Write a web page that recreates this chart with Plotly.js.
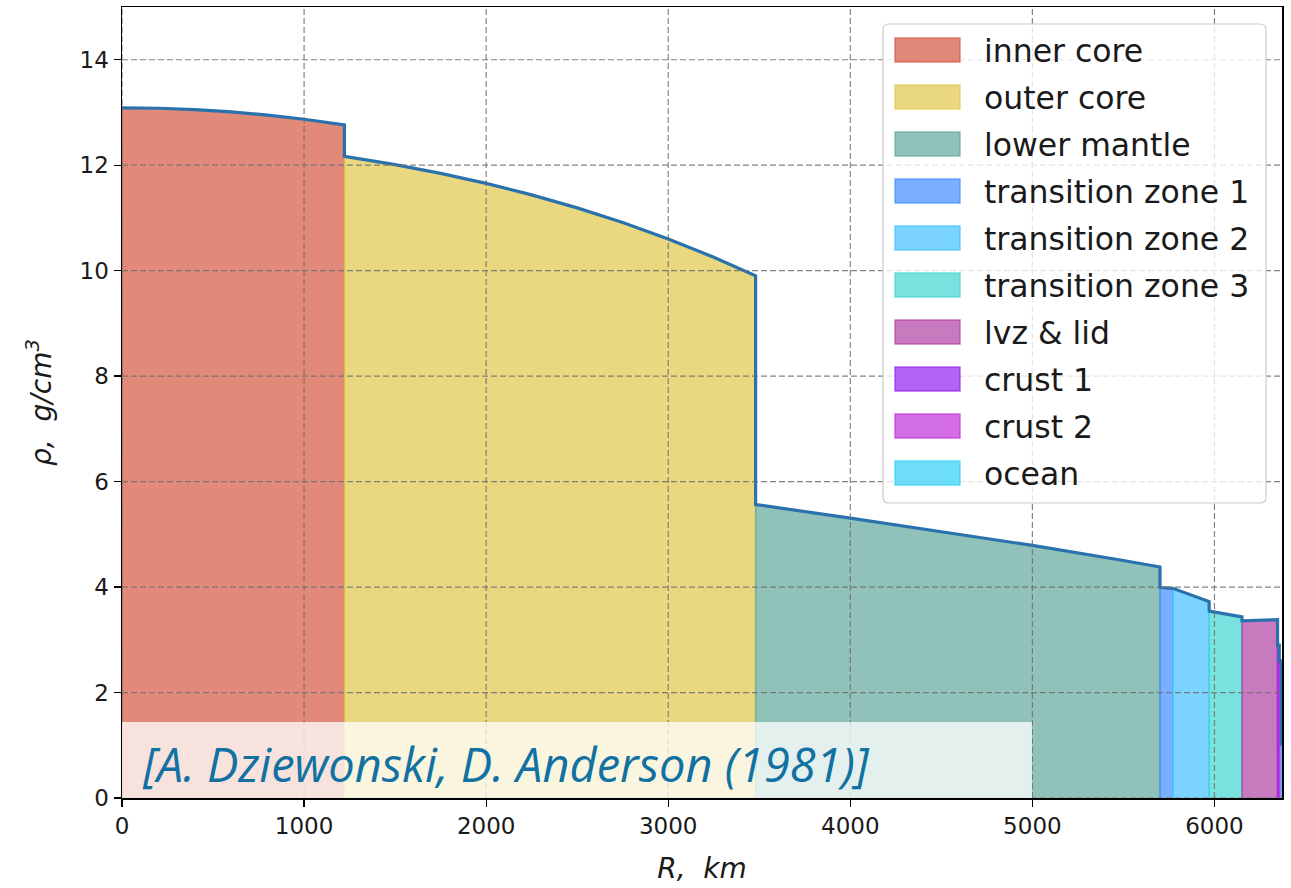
<!DOCTYPE html>
<html>
<head>
<meta charset="utf-8">
<script src="https://cdn.plot.ly/plotly-3.0.1.min.js"></script>
<style>
  html, body { margin: 0; padding: 0; background: #ffffff; }
  #chart { width: 1291px; height: 888px; }
</style>
</head>
<body>
<div id="chart"></div>
<script>
// PREM density profile, rho (g/cm^3) versus radius R (km), layer by layer.
const layerNames = ['inner core', 'outer core', 'lower mantle', 'transition zone 1',
  'transition zone 2', 'transition zone 3', 'lvz & lid', 'crust 1', 'crust 2', 'ocean'];

const innerCoreR   = [0, 200, 400, 600, 800, 1000, 1221.5];
const innerCoreRho = [13.088, 13.080, 13.054, 13.010, 12.949, 12.871, 12.764];

const outerCoreR   = [1221.5, 1500, 1750, 2000, 2250, 2500, 2750, 3000, 3250, 3480];
const outerCoreRho = [12.166, 12.010, 11.845, 11.655, 11.437, 11.191, 10.913, 10.602, 10.255, 9.904];

const lowerMantleR   = [3480, 4000, 4500, 5000, 5500, 5701];
const lowerMantleRho = [5.566, 5.307, 5.055, 4.790, 4.504, 4.381];

const transition1R   = [5701, 5771];
const transition1Rho = [3.992, 3.976];

const transition2R   = [5771, 5971];
const transition2Rho = [3.976, 3.724];

const transition3R   = [5971, 6151];
const transition3Rho = [3.543, 3.436];

const lvzLidR   = [6151, 6346.6];
const lvzLidRho = [3.360, 3.381];

const crust1R   = [6346.6, 6356];
const crust1Rho = [2.90, 2.90];

const crust2R   = [6356, 6368];
const crust2Rho = [2.60, 2.60];

const oceanR   = [6368, 6371];
const oceanRho = [1.02, 1.02];

const xTickValues = [0, 1000, 2000, 3000, 4000, 5000, 6000];
const yTickValues = [0, 2, 4, 6, 8, 10, 12, 14];

const sourceNote = '[A. Dziewonski, D. Anderson (1981)]';

// Base colours of the layers, drawn at 70 % opacity.
const layerColors = [
  [212, 89, 65], [225, 199, 74], [98, 168, 156], [65, 141, 255], [65, 194, 255],
  [65, 214, 208], [176, 65, 162], [145, 34, 241], [194, 48, 219], [48, 208, 245]
];
const alpha = 0.7;
const rgba = (c, a) => `rgba(${c[0]},${c[1]},${c[2]},${a})`;

const layerR   = [innerCoreR, outerCoreR, lowerMantleR, transition1R, transition2R,
                  transition3R, lvzLidR, crust1R, crust2R, oceanR];
const layerRho = [innerCoreRho, outerCoreRho, lowerMantleRho, transition1Rho, transition2Rho,
                  transition3Rho, lvzLidRho, crust1Rho, crust2Rho, oceanRho];

const traces = [];

// Filled area under each layer's density curve
layerNames.forEach((name, i) => {
  const r = layerR[i], rho = layerRho[i];
  traces.push({
    type: 'scatter',
    mode: 'lines',
    name: name,
    x: [r[0], ...r, r[r.length - 1]],
    y: [0, ...rho, 0],
    fill: 'toself',
    fillcolor: rgba(layerColors[i], alpha),
    line: { color: rgba(layerColors[i], alpha), width: 1.5 },
    hoverinfo: 'skip',
    showlegend: false
  });
});

// Continuous density curve across all layers
traces.push({
  type: 'scatter',
  mode: 'lines',
  name: 'density',
  x: layerR.flat(),
  y: layerRho.flat(),
  line: { color: '#2a72ad', width: 3.2 },
  showlegend: false
});

// Plot area in pixels, used to place the legend in paper units
const plotLeft = 122, plotRight = 1282, plotTop = 7, plotBottom = 798;
const pw = plotRight - plotLeft, ph = plotBottom - plotTop;
const px = x => (x - plotLeft) / pw;
const py = y => (plotBottom - y) / ph;

const shapes = [];

// Dashed grid drawn over the filled areas
xTickValues.forEach(v => shapes.push({
  type: 'line', xref: 'x', yref: 'paper', x0: v, x1: v, y0: 0, y1: 1, layer: 'above',
  line: { color: 'rgba(110,110,110,0.85)', width: 1.2, dash: '6px,3px' }
}));
yTickValues.forEach(v => shapes.push({
  type: 'line', xref: 'paper', yref: 'y', x0: 0, x1: 1, y0: v, y1: v, layer: 'above',
  line: { color: 'rgba(110,110,110,0.85)', width: 1.2, dash: '6px,3px' }
}));

// Translucent band behind the source note
shapes.push({
  type: 'rect', xref: 'paper', yref: 'paper',
  x0: 0, x1: px(1032), y0: 0, y1: py(722), layer: 'above',
  fillcolor: 'rgba(255,255,255,0.75)', line: { width: 0 }
});

// Legend frame with rounded corners
function roundedRect(x0, y0, x1, y1, rad) {
  const X = px, Y = py;
  return `M${X(x0 + rad)},${Y(y0)} L${X(x1 - rad)},${Y(y0)} Q${X(x1)},${Y(y0)} ${X(x1)},${Y(y0 + rad)} ` +
         `L${X(x1)},${Y(y1 - rad)} Q${X(x1)},${Y(y1)} ${X(x1 - rad)},${Y(y1)} ` +
         `L${X(x0 + rad)},${Y(y1)} Q${X(x0)},${Y(y1)} ${X(x0)},${Y(y1 - rad)} ` +
         `L${X(x0)},${Y(y0 + rad)} Q${X(x0)},${Y(y0)} ${X(x0 + rad)},${Y(y0)} Z`;
}
shapes.push({
  type: 'path', xref: 'paper', yref: 'paper', layer: 'above',
  path: roundedRect(883, 24, 1266, 503, 6),
  fillcolor: 'rgba(255,255,255,0.8)', line: { color: 'rgba(204,204,204,1)', width: 1.2 }
});

const annotations = [];
const rowStart = 50, rowStep = 47;
layerNames.forEach((name, i) => {
  const c = rowStart + rowStep * i;
  shapes.push({
    type: 'rect', xref: 'paper', yref: 'paper', layer: 'above',
    x0: px(895), x1: px(960), y0: py(c + 12), y1: py(c - 12),
    fillcolor: rgba(layerColors[i], alpha),
    line: { color: rgba(layerColors[i], alpha), width: 1.5 }
  });
  annotations.push({
    xref: 'paper', yref: 'paper', x: px(982), y: py(c + 1),
    xanchor: 'left', yanchor: 'middle', showarrow: false,
    text: name,
    font: { family: 'DejaVu Sans', size: 31.5, color: '#1a1a1a' }
  });
});

annotations.push({
  xref: 'paper', yref: 'paper', x: px(140), y: py(764),
  xanchor: 'left', yanchor: 'middle', showarrow: false,
  text: '<i>' + sourceNote + '</i>',
  font: { family: 'Open Sans', size: 47, color: '#1171a2' }
});

const layout = {
  width: 1291,
  height: 888,
  margin: { l: plotLeft, r: 1291 - plotRight, t: plotTop, b: 888 - plotBottom },
  paper_bgcolor: '#ffffff',
  plot_bgcolor: '#ffffff',
  showlegend: false,
  xaxis: {
    range: [0, 6371],
    tickvals: xTickValues,
    ticktext: xTickValues.map(String),
    showgrid: false, zeroline: false,
    showline: true, mirror: true, linecolor: '#000000', linewidth: 1.5,
    ticks: 'outside', ticklen: 7, tickwidth: 1.3, tickcolor: '#000000',
    tickfont: { family: 'DejaVu Sans', size: 23, color: '#1a1a1a' },
    title: { text: '<i>R,  km</i>', font: { family: 'DejaVu Sans', size: 28, color: '#1a1a1a' }, standoff: 20 },
    automargin: false
  },
  yaxis: {
    range: [0, 15],
    tickvals: yTickValues,
    ticktext: yTickValues.map(String),
    showgrid: false, zeroline: false,
    showline: true, mirror: true, linecolor: '#000000', linewidth: 1.5,
    ticks: 'outside', ticklen: 7, tickwidth: 1.3, tickcolor: '#000000',
    tickfont: { family: 'DejaVu Sans', size: 23, color: '#1a1a1a' },
    title: { text: '<i>ρ,  g/cm<sup>3</sup></i>', font: { family: 'DejaVu Sans', size: 28, color: '#1a1a1a' }, standoff: 20 },
    automargin: false
  },
  shapes: shapes,
  annotations: annotations
};

Plotly.newPlot('chart', traces, layout, { displayModeBar: false, staticPlot: true });
</script>
</body>
</html>
